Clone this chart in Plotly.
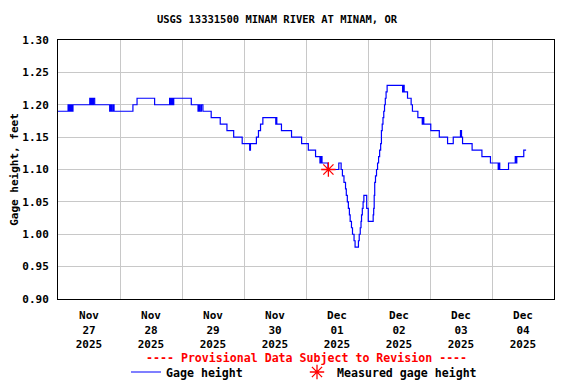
import datetime as dt
import plotly.graph_objects as go

# ---- data: step changes of gage height (hours after 2025-11-27 00:00, feet) ----
change_hours = [
    0.0, 3.9, 4.2, 4.5, 4.8, 5.1, 5.4, 5.8, 12.3, 12.7, 13.0, 13.4, 13.7, 14.2,
    20.0, 20.4, 20.8, 21.3, 21.7, 29.0, 30.6, 37.4, 43.2, 43.6, 44.0, 44.4, 44.8,
    51.6, 54.2, 54.6, 55.0, 55.5, 56.1, 59.3, 62.8, 65.4, 68.0, 71.3, 74.2, 74.5,
    76.8, 77.6, 78.4, 79.3, 84.3, 84.5, 84.7, 86.5, 90.4, 94.3, 96.9, 99.7, 101.4,
    101.8, 102.2, 104.5, 108.7, 109.6, 110.1, 110.7, 111.3, 111.6, 112.0, 112.4,
    112.8, 113.1, 113.6, 114.0, 114.6, 115.0, 116.3, 116.6, 117.0, 117.3, 117.5,
    117.8, 118.1, 118.4, 119.5, 120.1, 122.0, 122.2, 122.4, 122.6, 122.9, 123.3,
    123.7, 124.1, 124.5, 124.9, 125.2, 125.5, 125.8, 126.1, 126.4, 126.7, 127.0,
    127.4, 133.4, 133.7, 134.0, 135.3, 136.7, 137.2, 139.3, 141.0, 141.3, 141.6,
    144.3, 147.6, 150.8, 153.0, 155.8, 156.2, 156.6, 160.3, 164.1, 167.4, 170.4,
    170.7, 171.0, 174.4, 177.0, 177.3, 177.6, 180.3, 181.2,
]
gage_height = [
    1.19, 1.20, 1.19, 1.20, 1.19, 1.20, 1.19, 1.20, 1.21, 1.20, 1.21, 1.20, 1.21, 1.20,
    1.19, 1.20, 1.19, 1.20, 1.19, 1.20, 1.21, 1.20, 1.21, 1.20, 1.21, 1.20, 1.21,
    1.20, 1.19, 1.20, 1.19, 1.20, 1.19, 1.18, 1.17, 1.16, 1.15, 1.14, 1.13, 1.14,
    1.15, 1.16, 1.17, 1.18, 1.17, 1.18, 1.17, 1.16, 1.15, 1.14, 1.13, 1.12, 1.11,
    1.12, 1.11, 1.10, 1.11, 1.10, 1.09, 1.08, 1.07, 1.06, 1.05, 1.04,
    1.03, 1.02, 1.01, 1.00, 0.99, 0.98, 0.99, 1.00, 1.01, 1.02, 1.03,
    1.04, 1.05, 1.06, 1.04, 1.02, 1.03, 1.04, 1.06, 1.08, 1.09, 1.10,
    1.11, 1.12, 1.13, 1.14, 1.16, 1.17, 1.18, 1.19, 1.20, 1.21, 1.22,
    1.23, 1.22, 1.23, 1.22, 1.21, 1.20, 1.19, 1.18, 1.17, 1.18, 1.17,
    1.16, 1.15, 1.14, 1.15, 1.16, 1.15, 1.14, 1.13, 1.12, 1.11, 1.10,
    1.11, 1.10, 1.11, 1.12, 1.11, 1.12, 1.13, 1.13,
]
measured_time = ["2025-12-01 08:40"]
measured_height = [1.10]

day_months = ["Nov", "Nov", "Nov", "Nov", "Dec", "Dec", "Dec", "Dec"]
day_numbers = ["27", "28", "29", "30", "01", "02", "03", "04"]
day_years = ["2025"] * 8

title_text = "USGS 13331500 MINAM RIVER AT MINAM, OR"
y_title = "Gage height, feet"
provisional_text = "---- Provisional Data Subject to Revision ----"

# ---- build ----
start = dt.datetime(2025, 11, 27)
times = [start + dt.timedelta(hours=h) for h in change_hours]
noon_ticks = [start + dt.timedelta(days=i, hours=12) for i in range(len(day_numbers))]
tick_text = [f"<b>{m}</b><br><b>{d}</b><br><b>{y}</b>"
             for m, d, y in zip(day_months, day_numbers, day_years)]

FONT = "DejaVu Sans Mono"
# the page body has an 8px margin, so the figure is 8px smaller and sits at (8, 8)
W, H = 568, 376

fig = go.Figure()
fig.add_trace(go.Scatter(
    x=times, y=gage_height, mode="lines", line_shape="hv",
    line=dict(color="#0000ff", width=1.2), name="<b>Gage height</b>",
    legend="legend",
))
fig.add_trace(go.Scatter(
    x=measured_time, y=measured_height, mode="markers",
    marker=dict(symbol="asterisk-open", size=12, color="#ff0000",
                line=dict(color="#ff0000", width=1.3)),
    name="<b>Measured gage height</b>",
    legend="legend2",
))

legend_common = dict(orientation="h", xref="container", xanchor="left",
                     y=1 - 364 / H, yref="container", yanchor="middle",
                     font=dict(size=11.6), bgcolor="rgba(0,0,0,0)", borderwidth=0)

fig.update_layout(
    width=W, height=H,
    margin=dict(l=50, r=22, t=32, b=85, autoexpand=False),
    paper_bgcolor="white", plot_bgcolor="white",
    font=dict(family=FONT, size=11, color="black"),
    title=dict(text=f"<b>{title_text}</b>", x=269 / W, xref="container", xanchor="center",
               y=1 - 11 / H, yref="container", yanchor="middle",
               font=dict(family=FONT, size=10.5, color="black")),
    showlegend=True,
    legend=dict(x=118 / W, **legend_common),
    legend2=dict(x=289 / W, **legend_common),
    annotations=[dict(text=f"<b>{provisional_text}</b>", x=0.5, xref="paper", xanchor="center",
                      y=-0.228, yref="paper", yanchor="middle", showarrow=False,
                      font=dict(family=FONT, size=11.6, color="#ff0000"))],
)
fig.update_xaxes(
    type="date", automargin=False,
    range=[start, start + dt.timedelta(days=8)],
    tickmode="array", tickvals=noon_ticks, ticktext=tick_text,
    showgrid=False, ticks="", ticklabelstandoff=6,
    minor=dict(tick0=start, dtick=86400000, showgrid=True, gridcolor="#c8c8c8", gridwidth=1, ticks=""),
    showline=True, linecolor="black", linewidth=1, mirror=True, zeroline=False,
)
fig.update_yaxes(
    automargin=False,
    range=[0.90, 1.30], tick0=0.90, dtick=0.05, tickformat=".2f",
    showgrid=True, gridcolor="#c8c8c8", gridwidth=1, ticks="", ticklabelstandoff=6,
    tickprefix="<b>", ticksuffix="</b>",
    showline=True, linecolor="black", linewidth=1, mirror=True, zeroline=False,
    title=dict(text=f"<b>{y_title}</b>", standoff=4, font=dict(size=11)),
)

fig.write_html("out.html")
